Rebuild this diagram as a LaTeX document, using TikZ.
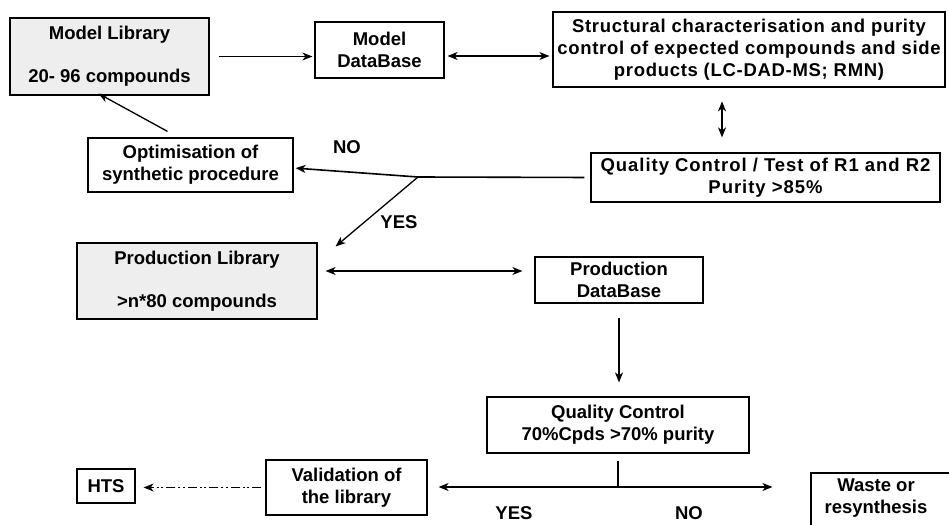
\documentclass[tikz,border=0pt]{standalone}
\usepackage{fontspec}
\setmainfont{Liberation Sans}
\usetikzlibrary{arrows.meta,calc}
\begin{document}
\begin{tikzpicture}[x=1pt,y=-1pt,
  box/.style={draw,line width=1.2pt,inner sep=0pt,align=center,
    font=\fontsize{18.5}{22}\selectfont\bfseries},
  shaded/.style={box,fill=gray!13},
  wide/.style={font=\fontsize{18.5}{22}\selectfont\bfseries\addfontfeature{LetterSpace=#1}},
  lbl/.style={font=\fontsize{18.5}{22}\selectfont\bfseries,inner sep=0pt},
  arr/.style={line width=1.3pt,-{Stealth[length=10pt,width=8pt,inset=3pt]}},
  darr/.style={line width=1.3pt,{Stealth[length=10pt,width=8pt,inset=3pt]}-{Stealth[length=10pt,width=8pt,inset=3pt]}},
  ln/.style={line width=1.3pt}]
\clip (0,0) rectangle (949,524);
\fill[white] (0,0) rectangle (949,524);
% nodes
\node[shaded,minimum width=199pt,minimum height=77pt] (ml) at (109.5,56.5) {Model Library\\[21pt]20- 96 compounds};
\node[box,minimum width=129pt,minimum height=56pt] (mdb) at (379.5,50) {Model\\DataBase};
\node[box,wide=3.8,minimum width=392pt,minimum height=75pt] (sc) at (749,49.5) {Structural characterisation and purity\\control of expected compounds and side\\products (LC-DAD-MS; RMN)};
\node[box,wide=5.2,minimum width=349pt,minimum height=49pt] (qc1) at (765.5,177.5) {Quality Control / Test of R1 and R2\\Purity >85\%};
\node[box,minimum width=205pt,minimum height=54pt] (opt) at (190.5,165) {Optimisation of\\synthetic procedure};
\node[shaded,minimum width=240pt,minimum height=76pt] (pl) at (197,281) {Production Library\\[21pt]>n*80 compounds};
\node[box,minimum width=168pt,minimum height=46pt] (pdb) at (619,280) {Production\\DataBase};
\node[box,minimum width=262pt,minimum height=56pt] (qc2) at (618,425) {Quality Control\\70\%Cpds >70\% purity};
\node[box,minimum width=161pt,minimum height=55pt] (val) at (346.5,487.5) {Validation of\\the library};
\node[box,minimum width=58pt,minimum height=34pt] (hts) at (106,486) {HTS};
\node[box,minimum width=150pt,minimum height=60pt,
  label={[lbl,align=center,xshift=-10pt,yshift=5pt]center:Waste or\\resynthesis}] (waste) at (886,503) {};
% labels
\node[lbl] (no1) at (347,147) {NO};
\node[lbl] (yes1) at (399,222) {YES};
\node[lbl] (yes2) at (514,513) {YES};
\node[lbl] (no2) at (689,513) {NO};
% connectors
\coordinate (br) at (418,177);
\coordinate (j) at (618,487);
\draw[arr,shorten >=2pt] ([xshift=9pt]ml.east) -- (ml.east -| mdb.west);
\draw[darr] ([xshift=3pt,yshift=-6pt]mdb.east) -- ([xshift=-3pt,yshift=-6pt]mdb.east -| sc.west);
\draw[darr] ($(qc1.north)+(-43.5,-51)$) -- ($(qc1.north)+(-43.5,-15)$);
\draw[ln,line width=1.6pt,shorten <=6pt] (qc1.west) -- (br);
\draw[arr,line width=1.6pt,shorten >=2pt] (br) -- ([yshift=-3pt]opt.east);
\draw[arr] (br) -- ($(pl.north east)+(18,4)$);
\draw[arr] ($(opt.north)+(-23,-6)$) -- ($(ml.south)+(-11,-2)$);
\draw[darr] ([xshift=8pt,yshift=10pt]pl.east) -- ([xshift=-12pt,yshift=9pt]pdb.west);
\draw[arr,shorten <=14pt,shorten >=14pt] (pdb.south) -- (pdb.south |- qc2.north);
\draw[ln,shorten <=7pt] (qc2.south) -- (j);
\draw[arr,shorten >=11pt] (j) -- (j -| val.east);
\draw[arr,shorten >=38pt] (j) -- (j -| waste.west);
\draw[arr,line width=1.5pt,shorten <=4pt,shorten >=8pt,dash pattern=on 9pt off 3pt on 2pt off 2.5pt on 2pt off 3pt] (val.west) -- (val.west -| hts.east);
\end{tikzpicture}
\end{document}
